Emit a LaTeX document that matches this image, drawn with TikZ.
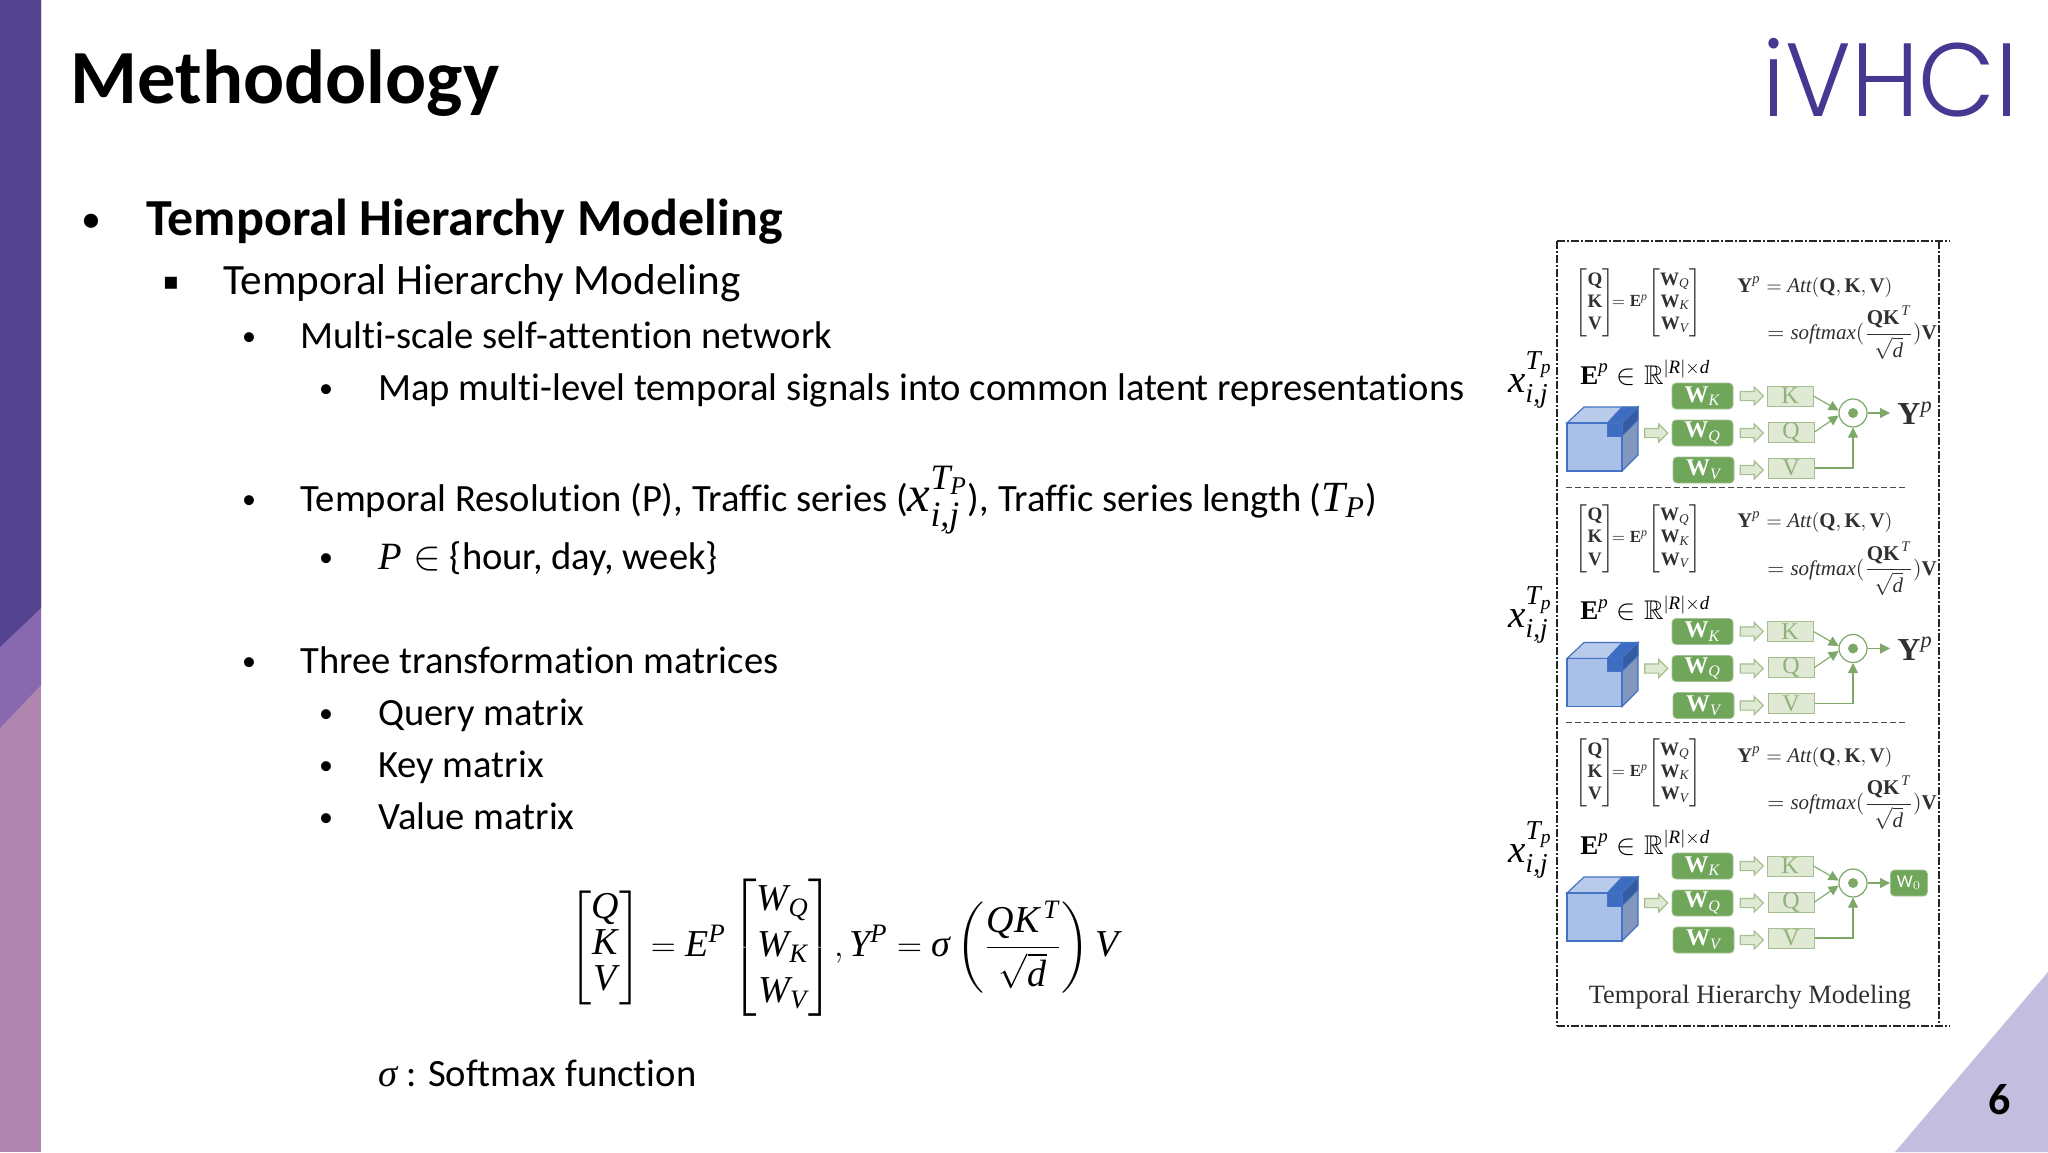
\documentclass[tikz,border=0pt]{standalone}
\usepackage{amsmath,amssymb}
\usepackage{fontspec}
\setmainfont[Ligatures=NoCommon]{Carlito}
\newfontfamily\pfont{Liberation Serif}
\newfontfamily\logofont{Poppins Light}
\newfontfamily\dvfont{DejaVu Sans}
\usetikzlibrary{arrows.meta,shapes.arrows}
\definecolor{sbdark}{HTML}{534390}
\definecolor{sbmid}{HTML}{8868AE}
\definecolor{sblow}{HTML}{AE86AE}
\definecolor{tri}{HTML}{C3BDE0}
\definecolor{logoc}{HTML}{463792}
\definecolor{gdark}{HTML}{6FA65A}
\definecolor{gline}{HTML}{7DA868}
\definecolor{glight}{HTML}{DFE9D3}
\definecolor{gedge}{HTML}{A5BF91}
\definecolor{gtext}{HTML}{8FB27A}
\definecolor{bfront}{HTML}{A9C0E8}
\definecolor{btop}{HTML}{B9CBEA}
\definecolor{bside}{HTML}{8297BD}
\definecolor{bdark}{HTML}{3E6CC0}
\definecolor{bedge}{HTML}{4472C4}
\definecolor{ptext}{HTML}{303030}
\newcommand{\bfm}[1]{\text{\pfont\bfseries #1}}
\newcommand{\itm}[1]{\text{\pfont\itshape #1}}
\tikzset{
  x=0.5pt,y=-0.5pt,
  txt/.style={anchor=base west,inner sep=0pt,font=\fontsize{#1}{#1}\selectfont},
  bul/.style={anchor=base,inner sep=0pt,font=\fontsize{14}{14}\selectfont},
  pm/.style={inner sep=0pt,text=ptext,font=\fontsize{9.5}{12}\selectfont},
  wbox/.style={draw=gline!70!white,line width=.4pt,fill=gdark,rounded corners=2pt,minimum width=30.5pt,minimum height=13pt,inner sep=0pt,text=white,font=\fontsize{12}{12}\selectfont},
  vbox/.style={draw=gedge,line width=.5pt,fill=glight,minimum width=23pt,minimum height=10pt,inner sep=0pt,text=gtext,font=\fontsize{12}{12}\pfont\selectfont},
  barrow/.style={single arrow,draw=gedge,line width=.6pt,fill=glight,inner sep=0pt,minimum height=11.5pt,single arrow head extend=2.2pt,single arrow head indent=0pt,shape border rotate=0},
  flow/.style={draw=gline,line width=.55pt,-{Triangle[length=5pt,width=5pt]}},
  frame/.style={draw=black!85,line width=.55pt,dash pattern=on 4pt off 1pt on 1pt off 1pt},
  sep/.style={draw=black!70,line width=.5pt,dash pattern=on 3pt off 1.5pt},
}
\newcommand{\hierpanel}[3]{%
\begin{scope}[shift={(0,#2)},name prefix=#1-]
  \node[pm] (qkv) at (1595,303) {$\renewcommand\arraystretch{0.92}\left[\begin{matrix}\bfm{Q}\\\bfm{K}\\\bfm{V}\end{matrix}\right]$};
  \node[pm,font=\fontsize{8.5}{12}\selectfont] (eq) at (1630,301) {$=\bfm{E}^{\itm{p}}$};
  \node[pm] (wqkv) at (1675,303) {$\renewcommand\arraystretch{0.92}\left[\begin{matrix}\bfm{W}_{\itm{Q}}\\\bfm{W}_{\itm{K}}\\\bfm{W}_{\itm{V}}\end{matrix}\right]$};
  \node[pm,anchor=base west,font=\fontsize{10.4}{12}\selectfont] (yatt) at (1737,292) {$\bfm{Y}^{\itm{p}}=\itm{Att}(\bfm{Q},\bfm{K},\bfm{V})$};
  \node[pm,anchor=west,font=\fontsize{10.5}{12}\selectfont] (soft) at (1767,333) {$=\itm{softmax}(\dfrac{\bfm{QK}^{\hspace{1pt}\itm{T}}}{\sqrt{\itm{d}}})\bfm{V}$};
  \node[inner sep=0pt,anchor=base west,font=\fontsize{13.5}{13}\selectfont] (emb) at (1580,384) {$\bfm{E}^{\itm{p}}\in\mathbb{R}^{|\itm{R}|\times \itm{d}}$};
  \node[inner sep=0pt,anchor=base east,font=\fontsize{19.5}{19}\selectfont] (xin) at (1553,392) {$\itm{x}_{\itm{i,j}}^{\itm{T}_{\itm{p}}}$};
  % cube
  \filldraw[fill=btop,draw=bedge,line width=.6pt] (1567,423) -- (1584,407) -- (1638,407) -- (1622,423) -- cycle;
  \filldraw[fill=bside,draw=bedge,line width=.6pt] (1622,423) -- (1638,407) -- (1638,455) -- (1622,471) -- cycle;
  \filldraw[fill=bfront,draw=bedge,line width=.6pt] (1567,423) rectangle (1622,471);
  \filldraw[fill=bdark,draw=bedge,line width=.4pt] (1607,423) -- (1622,407) -- (1638,407) -- (1622,423) -- cycle;
  \filldraw[fill=bdark!85!black,draw=bedge,line width=.4pt] (1622,423) -- (1638,407) -- (1638,420) -- (1622,436) -- cycle;
  \filldraw[fill=bdark,draw=bedge,line width=.4pt] (1607,423) rectangle (1622,436);
  \node[barrow] (a0) at (1654,433) {\rule{0pt}{4pt}};
  \node[wbox] (wk) at (1702.5,396) {$\bfm{W}_{\itm{K}}$};
  \node[wbox] (wq) at (1702.5,433) {$\bfm{W}_{\itm{Q}}$};
  \node[wbox] (wv) at (1703.5,470) {$\bfm{W}_{\itm{V}}$};
  \node[barrow] (ak) at (1749.5,396) {\rule{0pt}{4pt}};
  \node[barrow] (aq) at (1749.5,433) {\rule{0pt}{4pt}};
  \node[barrow] (av) at (1749.5,470) {\rule{0pt}{4pt}};
  \node[vbox] (k) at (1790,396) {K};
  \node[vbox] (q) at (1791,432) {Q};
  \node[vbox] (v) at (1791,468) {V};
  \node[circle,draw=gline,line width=.6pt,fill=white,minimum size=14pt,inner sep=0pt] (circ) at (1853,413) {};
  \fill[gline] (circ.center) circle (5);
  \draw[flow] (k.east) -- (circ.170);
  \draw[flow] (q.east) -- (circ.190);
  \draw[flow] (v.east) -| (circ.south);
  #3
  \draw[flow] (circ.east) -- (out.west);
\end{scope}}
\begin{document}
\begin{tikzpicture}
\useasboundingbox (0,0) rectangle (2048,1152);
\fill[white] (0,0) rectangle (2048,1152);
% sidebar
\fill[sblow] (0,0) rectangle (41,1152);
\fill[sbmid] (0,0) -- (41,0) -- (41,685) -- (0,728) -- cycle;
\fill[sbdark] (0,0) -- (41,0) -- (41,608) -- (0,647) -- cycle;
% corner
\fill[tri] (1895,1152) -- (2048,972) -- (2048,1152) -- cycle;
\node[inner sep=0pt,font=\fontsize{22}{22}\selectfont\bfseries] (pageno) at (2000,1099.5) {6};
% logo
\node[anchor=base west,inner sep=0pt,text=logoc,xscale=.96,font=\fontsize{52}{52}\logofont\selectfont] (logo) at (1762,116) {iVHCI};
% title
\node[txt=38.3,font=\fontsize{38.3}{38.3}\selectfont\bfseries] (title) at (70,103) {Methodology};
% bullets
\node[bul,font=\fontsize{20}{20}\selectfont] (b1) at (91,232) {•};
\node[txt=26,font=\fontsize{26}{26}\selectfont\bfseries] (t1) at (146,235) {Temporal Hierarchy Modeling};
\node[bul,font=\fontsize{12}{12}\dvfont\selectfont] (b2) at (171,289) {▪};
\node[txt=21.6] (t2) at (223,294) {Temporal Hierarchy Modeling};
\node[bul] (b3) at (249,345) {•};
\node[txt=19.3] (t3) at (300,348) {Multi-scale self-attention network};
\node[bul] (b4) at (326,397) {•};
\node[txt=19.3] (t4) at (378,400) {Map multi-level temporal signals into common latent representations};
\node[bul] (b5) at (249,508) {•};
\node[txt=19.3] (t5) at (300,511.5) {Temporal Resolution (P), Traffic series ({\fontsize{25.5}{26}\selectfont$\itm{x}_{\itm{i,j}}^{\itm{T}_{\itm{P}}}$}), Traffic series length ({\fontsize{21.5}{22}\selectfont$\itm{T}_{\itm{P}}$})};
\node[bul] (b6) at (326,566) {•};
\node[txt=19.3] (t6) at (378,569.5) {$\itm{P}\in$ \{hour, day, week\}};
\node[bul] (b7) at (249,670) {•};
\node[txt=19.3] (t7) at (300,673.5) {Three transformation matrices};
\node[bul] (b8) at (326,722) {•};
\node[txt=19.3] (t8) at (378,725.5) {Query matrix};
\node[bul] (b9) at (326,774) {•};
\node[txt=19.3] (t9) at (378,777.5) {Key matrix};
\node[bul] (b10) at (326,826) {•};
\node[txt=19.3] (t10) at (378,829.5) {Value matrix};
% equation
\node[inner sep=0pt,font=\fontsize{19}{22}\selectfont] (eqn) at (844,947.5) {$\renewcommand\arraystretch{0.82}\left[\begin{matrix}\itm{Q}\\\itm{K}\\\itm{V}\end{matrix}\right]=\itm{E}^{\itm{P}}\renewcommand\arraystretch{1.05}\left[\begin{matrix}\itm{W}_{\itm{Q}}\\\itm{W}_{\itm{K}}\\\itm{W}_{\itm{V}}\end{matrix}\right]\!,\itm{Y}^{\itm{P}}=\itm{σ}\left(\dfrac{\itm{QK}^{\hspace{2pt}\itm{T}}}{\sqrt{\itm{d}}}\right)\itm{V}$};
\node[txt=19.3] (sig) at (378,1086.5) {$\itm{σ}$ : Softmax function};
% figure frame
\draw[frame] (1557,241) -- (1950,241);
\draw[frame] (1557,1026) -- (1950,1026);
\draw[frame] (1557,241) -- (1557,1026);
\draw[frame] (1939,241) -- (1939,1026);
\hierpanel{p1}{0}{\node[anchor=west,inner sep=0pt,inner xsep=3.5pt,font=\fontsize{16}{16}\selectfont,text=ptext] (out) at (1890,413) {$\bfm{Y}^{\itm{p}}$};}
\hierpanel{p2}{235.5}{\node[anchor=west,inner sep=0pt,inner xsep=3.5pt,font=\fontsize{16}{16}\selectfont,text=ptext] (out) at (1890,413) {$\bfm{Y}^{\itm{p}}$};}
\hierpanel{p3}{470}{\node[wbox,anchor=west,minimum width=18.5pt,font=\fontsize{9}{9}\selectfont] (out) at (1890,413) {W$_0$};}
\draw[sep] (1566,487) -- (1908,487);
\draw[sep] (1566,722.5) -- (1908,722.5);
\node[inner sep=0pt,anchor=base,text=ptext,font=\fontsize{13.2}{13}\pfont\selectfont] (cap) at (1750,1003) {Temporal Hierarchy Modeling};
\end{tikzpicture}
\end{document}
